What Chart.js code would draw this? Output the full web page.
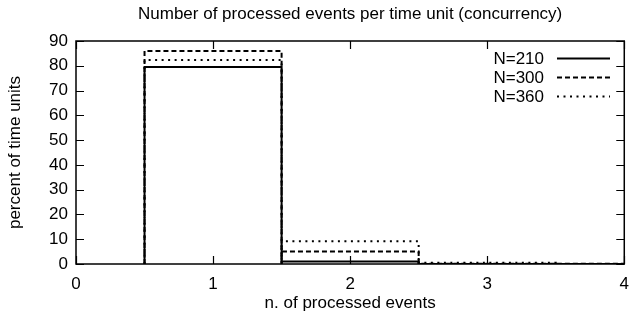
<!DOCTYPE html>
<html>
<head>
<meta charset="utf-8">
<script src="https://cdn.jsdelivr.net/npm/chart.js@4.4.1/dist/chart.umd.min.js"></script>
<style>
  html, body { margin: 0; padding: 0; background: #fff; }
  #myChart { display: block; }
</style>
</head>
<body>
<canvas id="myChart" width="639" height="326"></canvas>
<script>
const ctx = document.querySelector("#myChart");

// processed events per time unit, percent of time units for each run size
const events = [1, 2, 3, 4];
const n210 = [79.5, 1.0, 0, 0];
const n300 = [86.0, 5.0, 0.1, 0.1];
const n360 = [82.3, 9.2, 0.5, 0];

const seriesNames = ["N=210", "N=300", "N=360"];
const dashes = [[], [5, 3], [2, 4.5]];
const xTicks = [0, 1, 2, 3, 4];
const yTicks = [0, 10, 20, 30, 40, 50, 60, 70, 80, 90];

const FONT = "'Liberation Sans', Arial, sans-serif";
const FSIZE = 17;

// outline of each box: up the left edge, across the top, down the right edge
const boxOutline = (xs, ys) => {
  const pts = [];
  xs.forEach((x, i) => {
    pts.push({ x: x - 0.5, y: 0 });
    pts.push({ x: x - 0.5, y: ys[i] });
    pts.push({ x: x + 0.5, y: ys[i] });
    pts.push({ x: x + 0.5, y: 0 });
  });
  return pts;
};

// gnuplot style frame with inward ticks on all four sides
const frame = {
  id: "frame",
  beforeDatasetsDraw(chart) {
    const c = chart.ctx;
    const a = chart.chartArea;
    const xs = chart.scales.x;
    const ys = chart.scales.y;
    const tl = 8;
    c.save();
    c.strokeStyle = "#000";
    c.lineWidth = 1.5;
    c.strokeRect(a.left, a.top, a.right - a.left, a.bottom - a.top);
    c.beginPath();
    xTicks.forEach((v) => {
      const px = Math.round(xs.getPixelForValue(v)) + 0.5;
      c.moveTo(px, a.bottom); c.lineTo(px, a.bottom - tl);
      c.moveTo(px, a.top); c.lineTo(px, a.top + tl);
    });
    yTicks.forEach((v) => {
      const py = Math.round(ys.getPixelForValue(v)) + 0.5;
      c.moveTo(a.left, py); c.lineTo(a.left + tl, py);
      c.moveTo(a.right, py); c.lineTo(a.right - tl, py);
    });
    c.lineWidth = 1.2;
    c.stroke();
    c.restore();
  },
  afterDatasetsDraw(chart) {
    // key in the top right corner: label, then a line sample
    const c = chart.ctx;
    c.save();
    c.font = FSIZE + "px " + FONT;
    c.fillStyle = "#000";
    c.textAlign = "right";
    c.textBaseline = "middle";
    chart.data.datasets.forEach((ds, i) => {
      const y = 58 + i * 19;
      c.fillText(ds.label, 544, y + 1);
      c.beginPath();
      c.setLineDash(ds.borderDash);
      c.lineWidth = 2;
      c.strokeStyle = "#000";
      c.moveTo(557, y + 0.5);
      c.lineTo(610, y + 0.5);
      c.stroke();
    });
    c.restore();
  }
};

const dat = {
  datasets: [n210, n300, n360].map((vals, i) => ({
    label: seriesNames[i],
    data: boxOutline(events, vals),
    borderColor: "#000",
    borderWidth: 2,
    borderDash: dashes[i],
    pointRadius: 0,
    tension: 0,
    fill: false,
  })),
};

const config = {
  type: "line",
  data: dat,
  options: {
    responsive: false,
    animation: false,
    layout: { padding: { left: 0, right: 7, top: 0, bottom: 0 } },
    plugins: {
      legend: { display: false },
      tooltip: { enabled: false },
      title: {
        display: true,
        fullSize: false,
        text: "Number of processed events per time unit (concurrency)",
        color: "#000",
        font: { family: FONT, size: FSIZE, weight: "normal" },
        padding: { top: 4, bottom: 16.6 },
      },
    },
    scales: {
      x: {
        type: "linear",
        min: 0,
        max: 4,
        grid: { display: false, drawTicks: false },
        border: { display: false },
        afterBuildTicks: (s) => { s.ticks = xTicks.map((v) => ({ value: v })); },
        afterFit: (s) => { s.height = 62; },
        ticks: { color: "#000", padding: 10, maxRotation: 0, font: { family: FONT, size: FSIZE } },
        title: {
          display: true,
          text: "n. of processed events",
          color: "#000",
          font: { family: FONT, size: FSIZE },
          padding: { top: 0, bottom: 12 },
        },
      },
      y: {
        min: 0,
        max: 90,
        grid: { display: false, drawTicks: false },
        border: { display: false },
        afterBuildTicks: (s) => { s.ticks = yTicks.map((v) => ({ value: v })); },
        afterFit: (s) => { s.width = 76; },
        ticks: { color: "#000", padding: 8, font: { family: FONT, size: FSIZE } },
        title: {
          display: true,
          text: "percent of time units",
          color: "#000",
          font: { family: FONT, size: FSIZE },
          padding: { top: 5, bottom: 0 },
        },
      },
    },
  },
  plugins: [frame],
};

new Chart(ctx, config);
</script>
</body>
</html>
